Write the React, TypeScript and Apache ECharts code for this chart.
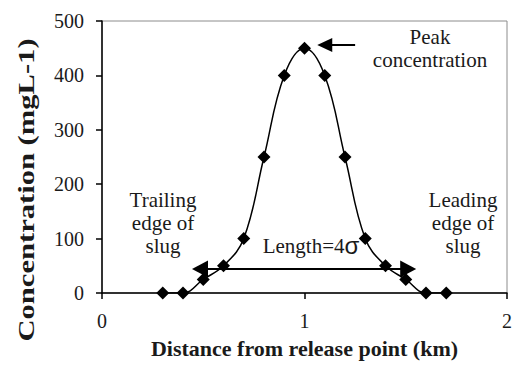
import React, { useEffect, useRef } from "react";
import * as echarts from "echarts";

const distanceKm = [0.3, 0.4, 0.5, 0.6, 0.7, 0.8, 0.9, 1.0, 1.1, 1.2, 1.3, 1.4, 1.5, 1.6, 1.7];
const concentration = [0, 0, 25, 50, 100, 250, 400, 450, 400, 250, 100, 50, 25, 0, 0];
const xTickLabels = ["0", "1", "2"];
const yTickLabels = ["0", "100", "200", "300", "400", "500"];
const slugArrow = { from: 0.484, to: 1.512, y: 44 };
const peakArrow = { from: 1.25, to: 1.1, y: 456 };

const SERIF = "Liberation Serif, Times New Roman, serif";
const SANS = "Liberation Sans, sans-serif";
const INK = "#1a1a1a";

export default function App() {
  const ref = useRef<HTMLDivElement>(null);
  useEffect(() => {
    if (!ref.current) return;
    const chart = echarts.init(ref.current, null, { renderer: "svg" });
    const seriesData = distanceKm.map((x, i) => [x, concentration[i]]);
    const noteStyle = {
      fontFamily: SERIF,
      fontWeight: "normal",
      fontSize: 21,
      lineHeight: 23,
      fill: INK,
      align: "center",
      verticalAlign: "top",
    };
    chart.setOption({
      animation: false,
      backgroundColor: "#ffffff",
      textStyle: { fontFamily: SERIF },
      grid: {
        left: 102,
        right: 3,
        top: 21,
        bottom: 74,
        show: true,
        borderColor: "#8c8c8c",
        borderWidth: 1,
      },
      xAxis: {
        type: "value",
        min: 0,
        max: 2,
        interval: 1,
        name: "Distance from release point (km)",
        nameLocation: "middle",
        nameGap: 44,
        nameTextStyle: { fontFamily: SERIF, fontWeight: "bold", fontSize: 22, color: INK },
        axisLine: { show: true, lineStyle: { color: "#000", width: 1.5 } },
        axisTick: { show: true, inside: false, length: 6, lineStyle: { color: "#000", width: 1.5 } },
        splitLine: { show: false },
        axisLabel: {
          margin: 18,
          fontFamily: SERIF,
          fontSize: 20,
          color: INK,
          formatter: (v: number) => xTickLabels[Math.round(v)] ?? String(v),
        },
      },
      yAxis: {
        type: "value",
        min: 0,
        max: 500,
        interval: 100,
        axisLine: { show: true, lineStyle: { color: "#000", width: 1.5 } },
        axisTick: { show: true, inside: false, length: 6, lineStyle: { color: "#000", width: 1.5 } },
        splitLine: { show: false },
        axisLabel: {
          margin: 18,
          fontFamily: SERIF,
          fontSize: 20,
          color: INK,
          formatter: (v: number) => yTickLabels[Math.round(v / 100)] ?? String(v),
        },
      },
      series: [
        {
          type: "line",
          data: seriesData,
          smooth: 0.4,
          symbol: "diamond",
          symbolSize: 13,
          itemStyle: { color: "#000" },
          lineStyle: { color: "#000", width: 1.5 },
          markLine: {
            silent: true,
            animation: false,
            label: { show: false },
            lineStyle: { color: "#000", width: 2, type: "solid" },
            data: [
              [
                { coord: [slugArrow.from, slugArrow.y], symbol: "triangle", symbolSize: [17, 16] },
                { coord: [slugArrow.to, slugArrow.y], symbol: "triangle", symbolSize: [17, 16] },
              ],
              [
                { coord: [peakArrow.from, peakArrow.y], symbol: "none" },
                { coord: [peakArrow.to, peakArrow.y], symbol: "triangle", symbolSize: [14, 15] },
              ],
            ],
          },
        },
      ],
      graphic: [
        {
          type: "text",
          x: 26,
          y: 190,
          rotation: Math.PI / 2,
          scaleX: 1.33,
          style: {
            text: "Concentration (mgL-1)",
            fontFamily: SERIF,
            fontSize: 23,
            fontWeight: "bold",
            fill: INK,
            align: "center",
            verticalAlign: "middle",
          },
        },
        { type: "text", x: 430, y: 25, style: { ...noteStyle, text: "Peak\nconcentration" } },
        { type: "text", x: 163, y: 188, style: { ...noteStyle, text: "Trailing\nedge of\nslug" } },
        { type: "text", x: 463, y: 188, style: { ...noteStyle, text: "Leading\nedge of\nslug" } },
        {
          type: "text",
          x: 311,
          y: 234,
          style: {
            text: "{a|Length=4}{b|σ}",
            align: "center",
            verticalAlign: "top",
            rich: {
              a: { fontFamily: SERIF, fontSize: 21, lineHeight: 23, fill: INK, color: INK },
              b: { fontFamily: SANS, fontSize: 24, lineHeight: 23, fill: INK, color: INK },
            },
          },
        },
      ],
    });
    return () => chart.dispose();
  }, []);
  return (
    <div
      ref={ref}
      style={{ position: "fixed", left: 0, top: 0, width: 515, height: 367, background: "#fff" }}
    />
  );
}
